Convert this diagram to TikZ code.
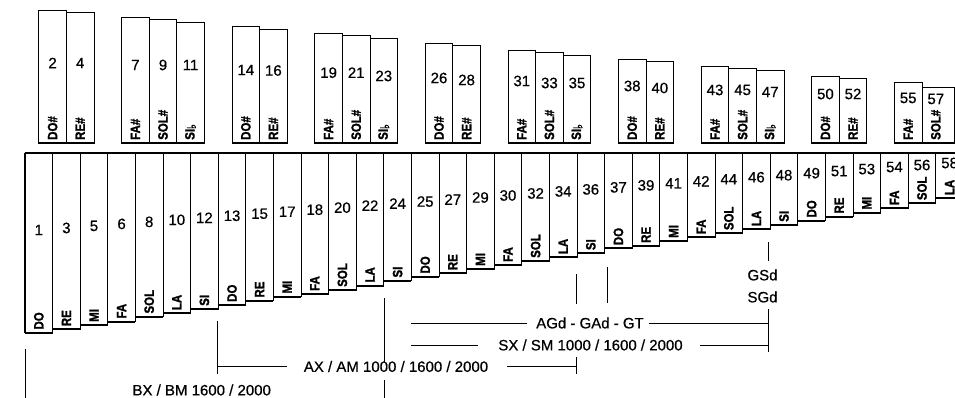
\documentclass[tikz,border=0pt]{standalone}
\usepackage{fontspec}
\setmainfont{Liberation Sans}
\newfontfamily\heavyfont{Liberation Sans}[BoldFeatures={FakeBold=1.6}]
\newfontfamily\medfont{Liberation Sans}[FakeBold=0.6]
\newfontfamily\symfont{DejaVu Sans}[FakeBold=1.5]
\newcommand\myflat{\raisebox{-1.5pt}{\symfont\fontsize{12.5}{12.5}\selectfont ♭}}
\begin{document}
\begin{tikzpicture}[x=1pt,y=-1pt,
  barline/.style={draw=black,line width=0.9pt},
  baseline/.style={draw=black,line width=1.7pt},
  numtxt/.style={font=\medfont\fontsize{15}{15}\selectfont, inner sep=0pt},
  notetxt/.style={font=\heavyfont\fontsize{13.5}{13.5}\selectfont\bfseries, inner sep=0pt, rotate=90, anchor=west},
  rangetxt/.style={font=\medfont\fontsize{15}{15}\selectfont, inner sep=0pt},
  rangeline/.style={draw=black,line width=0.8pt}]
\useasboundingbox (0,0) rectangle (955,398);
\clip (0,0) rectangle (955,398);
% natural bars
\foreach \i/\n/\lab/\b in {0/1/DO/332.7, 1/3/RE/329.3, 2/5/MI/325, 3/6/FA/321.7, 4/8/SOL/316.7,
  5/10/LA/313.3, 6/12/SI/309, 7/13/DO/305, 8/15/RE/300.7, 9/17/MI/296.7, 10/18/FA/294,
  11/20/SOL/290, 12/22/LA/285.7, 13/24/SI/280.7, 14/25/DO/276.7, 15/27/RE/273.3, 16/29/MI/269,
  17/30/FA/265, 18/32/SOL/261, 19/34/LA/257.3, 20/36/SI/253.3, 21/37/DO/248.3, 22/39/RE/246,
  23/41/MI/241, 24/42/FA/237.3, 25/44/SOL/233.3, 26/46/LA/229.3, 27/48/SI/225, 28/49/DO/220.7,
  29/51/RE/216.7, 30/53/MI/212.7, 31/54/FA/208.3, 32/56/SOL/203.3, 33/58/LA/198.3} {
  \pgfmathsetmacro\xl{25+27.6*\i}
  \pgfmathsetmacro\xr{\xl+27.6}
  \pgfmathsetmacro\xc{\xl+13.8}
  \pgfmathsetmacro\ny{230-2.03*\i}
  \draw[barline] (\xl,153) rectangle (\xr,\b);
  \draw[baseline] (\xl,\b) -- (\xr,\b);
  \node[numtxt] (n\n) at (\xc,\ny) {\n};
  \node[notetxt] (l\n) at (\xc,\b-3) {\scalebox{0.85}[1]{\lab}};
}
\draw[line width=2pt] (24.5,153) -- (955,153);
\draw[line width=1.6pt] (25,153) -- (25,332.7);
% sharp bars
\foreach \h/\n/\lab/\t/\ny/\w in {0.5/2/DO\#/10.7/63/27.6, 1.5/4/RE\#/12.7/63/27.6,
  3.5/7/FA\#/17.3/65/27.6, 4.5/9/SOL\#/19.3/65/27.6, 5.5/11/SI\myflat/22/65/27.6,
  7.5/14/DO\#/26.7/70/27.6, 8.5/16/RE\#/29/70.5/27.6,
  10.5/19/FA\#/33.7/72.7/27.6, 11.5/21/SOL\#/35.7/72.7/27.6, 12.5/23/SI\myflat/38.3/76/27.6,
  14.5/26/DO\#/43.3/78/27.6, 15.5/28/RE\#/45/80/27.6,
  17.5/31/FA\#/50/81/27.6, 18.5/33/SOL\#/52.3/83/27.6, 19.5/35/SI\myflat/55/83/27.6,
  21.5/38/DO\#/59.3/86/27.6, 22.5/40/RE\#/61.7/88/27.6,
  24.5/43/FA\#/66.7/90/27.6, 25.5/45/SOL\#/68.7/90/27.6, 26.5/47/SI\myflat/70.7/92/27.6,
  28.5/50/DO\#/76/94/27.6, 29.5/52/RE\#/78.3/94/27.6,
  31.5/55/FA\#/82.7/98/27.6, 32.5/57/SOL\#/87.7/99/32} {
  \pgfmathsetmacro\xl{25+27.6*\h}
  \pgfmathsetmacro\xr{\xl+\w}
  \pgfmathsetmacro\xc{\xl+13.8}
  \draw[barline] (\xl,\t) rectangle (\xr,143);
  \draw[baseline] (\xl,143) -- (\xr,143);
  \node[numtxt] (n\n) at (\xc,\ny) {\n};
  \node[notetxt] (l\n) at (\xc,140) {\scalebox{0.85}[1]{\lab}};
}
% range labels
\node[rangetxt] (agd) at (590,323) {AGd - GAd - GT};
\node[rangetxt] (sx) at (590.5,345) {SX / SM 1000 / 1600 / 2000};
\node[rangetxt] (ax) at (396,366.5) {AX / AM 1000 / 1600 / 2000};
\node[rangetxt] (bx) at (201.7,390) {BX / BM 1600 / 2000};
\node[rangetxt] (gsd) at (762.5,275) {GSd};
\node[rangetxt] (sgd) at (762.5,297) {SGd};
% range lines
\draw[rangeline] (25,349) -- (25,398);
\draw[rangeline] (384,298) -- (384,362);
\draw[rangeline] (384,380) -- (384,398);
\draw[rangeline] (217.5,321) -- (217.5,374);
\draw[rangeline] (217.5,366) -- (287,366);
\draw[rangeline] (507,366) -- (576,366);
\draw[rangeline] (576,357) -- (576,374);
\draw[rangeline] (576,274) -- (576,304);
\draw[rangeline] (607,267) -- (607,303);
\draw[rangeline] (411,323) -- (527,323);
\draw[rangeline] (649,323) -- (768,323);
\draw[rangeline] (411,345) -- (478,345);
\draw[rangeline] (700,345) -- (768,345);
\draw[rangeline] (768,242) -- (768,261);
\draw[rangeline] (768,309) -- (768,352);
\end{tikzpicture}
\end{document}
